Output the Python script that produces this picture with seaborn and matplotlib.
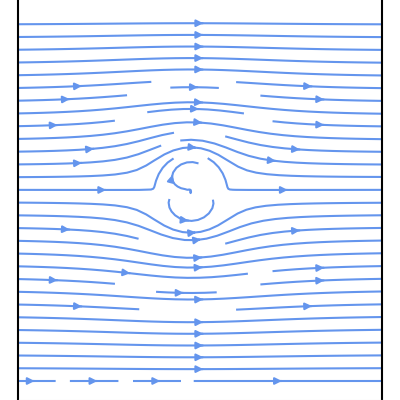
import numpy as np
import matplotlib
matplotlib.use("Agg")
import matplotlib.pyplot as plt
from matplotlib.patches import Rectangle
import seaborn as sns

# flow parameters: uniform stream past a cylinder between two channel walls
free_stream = 1.0
radius = 0.6
centre = (-0.15, 0.1)
x_range = [-3.0, 3.0]
y_range = [-3.0, 3.0]
n_images = 4
n_grid = 120

sns.set_style("white")

x = np.linspace(x_range[0], x_range[1], n_grid)
y = np.linspace(y_range[0], y_range[1], n_grid)
X, Y = np.meshgrid(x, y)

height = y_range[1] - y_range[0]
image_ys = []
for k in range(-n_images, n_images + 1):
    image_ys.append(centre[1] + 2 * height * k)
    image_ys.append(2 * y_range[1] - centre[1] + 2 * height * k)

U = np.full_like(X, free_stream)
V = np.zeros_like(X)
for cy in image_ys:
    dx = X - centre[0]
    dy = Y - cy
    r2 = dx**2 + dy**2
    U -= free_stream * radius**2 * (dx**2 - dy**2) / r2**2
    V -= free_stream * 2 * radius**2 * dx * dy / r2**2

fig = plt.figure(figsize=(4, 4), dpi=100)
ax = fig.add_axes([0.045, 0.0, 0.91, 1.0])
n_patches_before = len(ax.patches)
sp = ax.streamplot(X, Y, U, V, color="cornflowerblue", linewidth=1.5, density=1, arrowsize=1)
ax.set_xlim(x_range)
ppu = 369.5 / height
ylo = y_range[0] - 19 / ppu
ax.set_ylim(ylo, y_range[1] + 11.5 / ppu)

# the reference shows no streamline along the very top edge of the grid
clip = Rectangle((x_range[0] - 1, ylo - 1), x_range[1] - x_range[0] + 2,
                 (y_range[1] - 0.1) - (ylo - 1), transform=ax.transData)
sp.lines.set_clip_path(clip)
for p in ax.patches[n_patches_before:]:
    p.set_clip_path(clip)

ax.set_xticks([])
ax.set_yticks([])
for s in ["left", "right"]:
    ax.spines[s].set_color("black")
    ax.spines[s].set_linewidth(1.5)
ax.spines["top"].set_visible(False)
ax.spines["bottom"].set_color("#e4e4e4")
fig.savefig("out.png", dpi=100)
